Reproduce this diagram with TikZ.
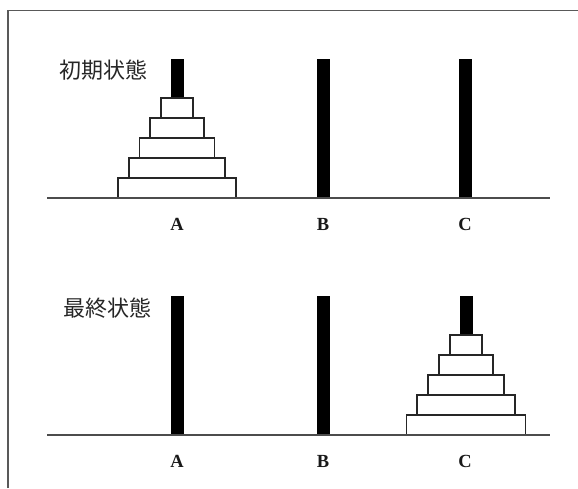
\documentclass[tikz,border=0pt]{standalone}
\usepackage{fontspec}
\setmainfont{Liberation Serif}
\newfontfamily\cjk{Noto Sans CJK JP}
\begin{document}
\begin{tikzpicture}[x=1pt,y=-1pt,
  disk/.style={draw=black!85, fill=white, line width=1.8pt},
  peg/.style={fill=black},
  base/.style={draw=black!70, line width=1.7pt},
  frameline/.style={draw=black!65, line width=1.5pt},
  lbl/.style={font=\bfseries\fontsize{18.5}{18.5}\selectfont, inner sep=0pt, text=black!90},
  ttl/.style={font=\cjk\fontsize{22}{22}\selectfont, inner sep=0pt, text=black!85}]
\useasboundingbox (0,0) rectangle (578,488);
\draw[frameline] (8,488) -- (8,10.5) -- (578,10.5);
% top state
\foreach \cx in {177,323,465.5} {\fill[peg] ({\cx-6.5},59) rectangle ({\cx+6.5},198);}
\foreach \i/\w in {0/16,1/27,2/37.5,3/48,4/59} {\draw[disk] ({177-\w},{98+20*\i}) rectangle ({177+\w},{118+20*\i});}
\draw[base] (47,198) -- (550,198);
\node[ttl] (t1) at (103,70) {初期状態};
\node[lbl] (a1) at (177,224) {A};
\node[lbl] (b1) at (323,224) {B};
\node[lbl] (c1) at (465,224) {C};
% final state
\foreach \cx in {177,323,466} {\fill[peg] ({\cx-6.5},296) rectangle ({\cx+6.5},435);}
\foreach \i/\w in {0/16,1/27,2/38,3/49,4/59.5} {\draw[disk] ({466-\w},{335+20*\i}) rectangle ({466+\w},{355+20*\i});}
\draw[base] (47,435) -- (550,435);
\node[ttl] (t2) at (107,308) {最終状態};
\node[lbl] (a2) at (177,461) {A};
\node[lbl] (b2) at (323,461) {B};
\node[lbl] (c2) at (465,461) {C};
\end{tikzpicture}
\end{document}
